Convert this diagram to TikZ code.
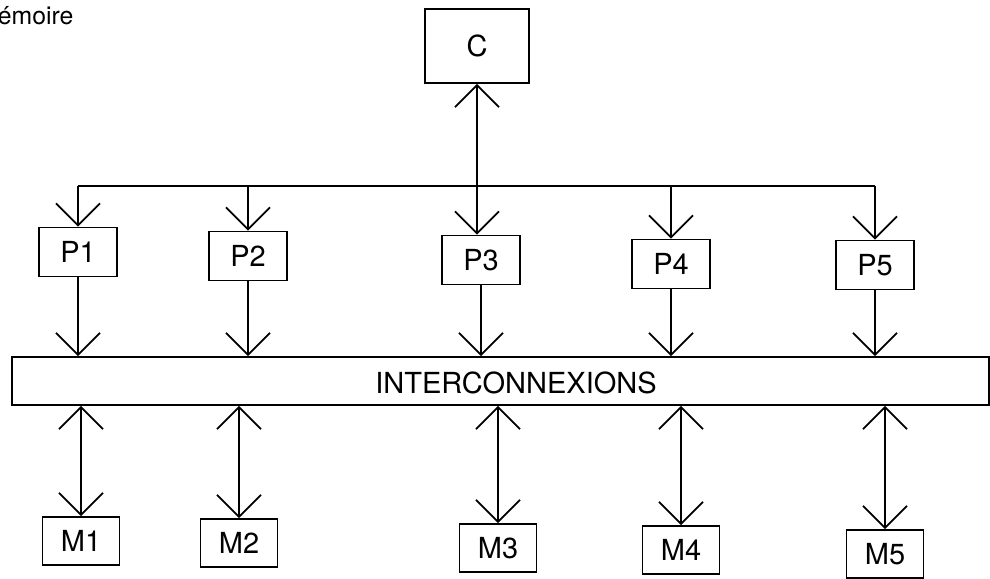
\documentclass[tikz,border=0pt]{standalone}
\usepackage{fontspec}
\setmainfont{TeX Gyre Heros}
\usetikzlibrary{positioning}
\usetikzlibrary{calc}
\usetikzlibrary{arrows.meta}
\tikzset{every picture/.style={line width=0.9pt},>={Straight Barb[length=11pt,width=22pt]}}

\begin{document}
\begin{tikzpicture}[x=0.5pt,y=-0.5pt,bx/.style={draw, minimum width=39pt, minimum height=24.5pt, inner sep=0pt, font=\fontsize{14.5}{17}\selectfont}]
\useasboundingbox (0,0) rectangle (990,578);
\node (titre) at (-3,25) [anchor=base west, inner sep=0pt, font=\fontsize{12.4}{15}\selectfont] {émoire};
\node (c) at (477,46) [bx, minimum width=52pt, minimum height=37pt] {C};
\foreach \i/\x/\y in {1/78/252,2/248/256,3/481/260,4/671/264,5/875/265} {
\node (p\i) at (\x,\y) [bx] {P\i};
}
\foreach \i/\x/\y in {1/81/541,2/239/543,3/498/548,4/681/550,5/885/554} {
\node (m\i) at (\x,\y) [bx, minimum width=38.5pt, minimum height=24pt] {M\i};
}
\node (net) at (500.5,381) [draw, minimum width=488.5pt, minimum height=24pt] {};
\node (netlab) at (516,383) [font=\fontsize{14.5}{17}\selectfont] {INTERCONNEXIONS};
% bus from C to the P boxes
\coordinate (bus) at (0,186);
\draw[<->] (c.south) -- (c.south |- p3.north);
\draw (p1.north |- bus) -- (p5.north |- bus);
\foreach \i in {1,2,4,5} {
\draw[->] (p\i.north |- bus) -- (p\i.north);
}
\foreach \i in {1,...,5} {
\draw[->] (p\i) -- (p\i |- net.north);
\draw[<->] (m\i |- net.south) -- (m\i);
}
\end{tikzpicture}
\end{document}
